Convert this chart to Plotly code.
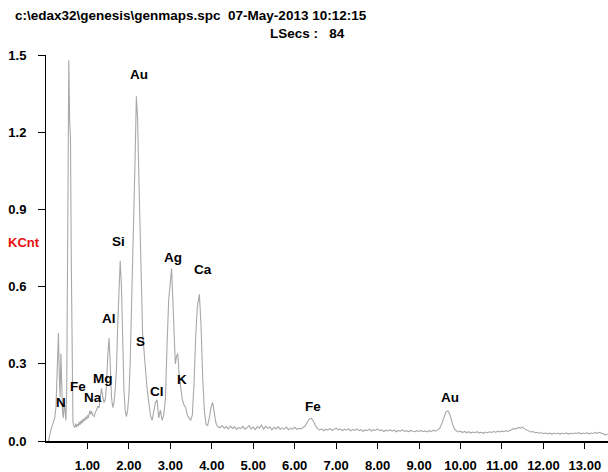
import plotly.graph_objects as go

# ---------------- data ----------------
energy_low = [0.06, 0.09, 0.12, 0.15, 0.18, 0.21, 0.24, 0.26, 0.28, 0.30,
              0.32, 0.34, 0.36, 0.38, 0.40, 0.42, 0.44, 0.46, 0.48, 0.50,
              0.52, 0.54, 0.55, 0.57, 0.59, 0.61, 0.63, 0.65, 0.67, 0.70,
              0.72, 0.74, 0.76, 0.78, 0.80, 0.82, 0.84, 0.86, 0.88, 0.90,
              0.92, 0.94, 0.96, 0.98, 1.00, 1.02, 1.04, 1.06, 1.08, 1.10,
              1.13, 1.16, 1.19, 1.22, 1.25, 1.28, 1.31, 1.34, 1.37, 1.40,
              1.43, 1.46, 1.49, 1.52, 1.55, 1.58, 1.61, 1.64, 1.67, 1.70,
              1.73, 1.76, 1.79, 1.82, 1.85, 1.88, 1.91, 1.94, 1.97, 2.00,
              2.03, 2.06, 2.09, 2.12, 2.15, 2.18, 2.21, 2.24, 2.27, 2.30,
              2.33, 2.36, 2.40, 2.44, 2.48, 2.52, 2.56, 2.60, 2.64, 2.68,
              2.72, 2.76, 2.80, 2.84, 2.88, 2.92, 2.96, 2.99, 3.03, 3.06,
              3.09, 3.12, 3.15, 3.18, 3.21, 3.25, 3.29, 3.33, 3.37, 3.41,
              3.45, 3.49, 3.53, 3.57, 3.61, 3.65, 3.70, 3.74, 3.78, 3.82,
              3.86, 3.90, 3.94, 3.98, 4.02, 4.06, 4.10, 4.14]
kcnt_low = [0.000, 0.030, 0.045, 0.060, 0.075, 0.090, 0.130, 0.220, 0.330, 0.420,
            0.260, 0.170, 0.340, 0.220, 0.110, 0.090, 0.150, 0.120, 0.080, 0.200,
            0.750, 1.300, 1.480, 1.250, 1.180, 0.700, 0.250, 0.075, 0.060, 0.052,
            0.068, 0.055, 0.064, 0.058, 0.074, 0.063, 0.078, 0.068, 0.084, 0.074,
            0.088, 0.079, 0.094, 0.084, 0.100, 0.090, 0.104, 0.118, 0.104, 0.115,
            0.100, 0.095, 0.112, 0.120, 0.135, 0.128, 0.170, 0.205, 0.170, 0.150,
            0.160, 0.220, 0.330, 0.400, 0.300, 0.170, 0.130, 0.150, 0.200, 0.280,
            0.450, 0.620, 0.700, 0.600, 0.380, 0.200, 0.120, 0.095, 0.120, 0.180,
            0.300, 0.480, 0.700, 0.890, 1.100, 1.340, 1.250, 1.030, 0.790, 0.550,
            0.420, 0.360, 0.260, 0.200, 0.150, 0.100, 0.080, 0.120, 0.150, 0.160,
            0.090, 0.120, 0.080, 0.100, 0.160, 0.370, 0.550, 0.600, 0.670, 0.550,
            0.380, 0.300, 0.330, 0.340, 0.260, 0.200, 0.160, 0.140, 0.130, 0.100,
            0.090, 0.080, 0.100, 0.220, 0.400, 0.520, 0.570, 0.450, 0.250, 0.120,
            0.065, 0.060, 0.090, 0.130, 0.150, 0.110, 0.070, 0.055]

energy_high = [4.20, 4.25, 4.30, 4.35, 4.40, 4.45, 4.50, 4.55, 4.60, 4.65,
               4.70, 4.75, 4.80, 4.85, 4.90, 4.95, 5.00, 5.05, 5.10, 5.15,
               5.20, 5.25, 5.30, 5.35, 5.40, 5.45, 5.50, 5.55, 5.60, 5.65,
               5.70, 5.75, 5.80, 5.85, 5.90, 5.95, 6.00, 6.05, 6.10, 6.15,
               6.20, 6.25, 6.30, 6.35, 6.40, 6.45, 6.50, 6.55, 6.60, 6.65,
               6.70, 6.75, 6.80, 6.85, 6.90, 6.95, 7.00, 7.05, 7.10, 7.15,
               7.20, 7.25, 7.30, 7.35, 7.40, 7.45, 7.50, 7.55, 7.60, 7.65,
               7.70, 7.75, 7.80, 7.85, 7.90, 7.95, 8.00, 8.05, 8.10, 8.15,
               8.20, 8.25, 8.30, 8.35, 8.40, 8.45, 8.50, 8.55, 8.60, 8.65,
               8.70, 8.75, 8.80, 8.85, 8.90, 8.95, 9.00, 9.05, 9.10, 9.15,
               9.20, 9.25, 9.30, 9.35, 9.40, 9.45, 9.50, 9.55, 9.60, 9.65,
               9.70, 9.75, 9.80, 9.85, 9.90, 9.95, 10.00, 10.05, 10.10, 10.15,
               10.20, 10.25, 10.30, 10.35, 10.40, 10.45, 10.50, 10.55, 10.60, 10.65,
               10.70, 10.75, 10.80, 10.85, 10.90, 10.95, 11.00, 11.05, 11.10, 11.15,
               11.20, 11.25, 11.30, 11.35, 11.40, 11.45, 11.50, 11.55, 11.60, 11.65,
               11.70, 11.75, 11.80, 11.85, 11.90, 11.95, 12.00, 12.05, 12.10, 12.15,
               12.20, 12.25, 12.30, 12.35, 12.40, 12.45, 12.50, 12.55, 12.60, 12.65,
               12.70, 12.75, 12.80, 12.85, 12.90, 12.95, 13.00, 13.05, 13.10, 13.15,
               13.20, 13.25, 13.30, 13.35, 13.40, 13.45, 13.50, 13.55]
kcnt_high = [0.052, 0.060, 0.050, 0.056, 0.047, 0.058, 0.049, 0.055, 0.045, 0.053,
             0.048, 0.057, 0.046, 0.052, 0.060, 0.047, 0.054, 0.044, 0.056, 0.050,
             0.062, 0.046, 0.058, 0.049, 0.055, 0.043, 0.053, 0.047, 0.056, 0.045,
             0.051, 0.046, 0.054, 0.044, 0.050, 0.046, 0.053, 0.045, 0.049, 0.047,
             0.052, 0.058, 0.072, 0.085, 0.088, 0.078, 0.060, 0.048, 0.043, 0.047,
             0.040, 0.046, 0.042, 0.049, 0.041, 0.045, 0.050, 0.043, 0.047, 0.040,
             0.046, 0.042, 0.048, 0.039, 0.045, 0.041, 0.047, 0.040, 0.044, 0.038,
             0.043, 0.040, 0.046, 0.039, 0.044, 0.041, 0.047, 0.040, 0.043, 0.037,
             0.042, 0.039, 0.044, 0.038, 0.042, 0.036, 0.041, 0.038, 0.043, 0.037,
             0.040, 0.036, 0.041, 0.038, 0.036, 0.040, 0.037, 0.041, 0.036, 0.039,
             0.035, 0.040, 0.037, 0.042, 0.038, 0.043, 0.050, 0.068, 0.095, 0.114,
             0.117, 0.100, 0.070, 0.048, 0.040, 0.035, 0.038, 0.033, 0.037, 0.032,
             0.036, 0.031, 0.035, 0.032, 0.036, 0.031, 0.034, 0.030, 0.035, 0.032,
             0.036, 0.033, 0.037, 0.034, 0.038, 0.035, 0.039, 0.036, 0.040, 0.037,
             0.042, 0.045, 0.049, 0.047, 0.053, 0.050, 0.054, 0.046, 0.042, 0.038,
             0.035, 0.037, 0.032, 0.034, 0.030, 0.032, 0.029, 0.031, 0.028, 0.031,
             0.027, 0.030, 0.028, 0.031, 0.027, 0.030, 0.028, 0.032, 0.027, 0.030,
             0.028, 0.031, 0.029, 0.033, 0.028, 0.031, 0.029, 0.032, 0.028, 0.031,
             0.029, 0.033, 0.030, 0.034, 0.030, 0.026, 0.024, 0.027]

element_labels = ["Au", "Si", "Ag", "Ca", "Al", "S", "Mg", "Fe", "Na", "N",
                  "Cl", "K", "Fe", "Au"]
label_energy = [2.25, 1.76, 3.07, 3.78, 1.52, 2.29, 1.38, 0.77, 1.14, 0.37,
                2.67, 3.29, 6.44, 9.74]
label_kcnt = [1.426, 0.775, 0.714, 0.667, 0.477, 0.386, 0.241, 0.211, 0.168, 0.148,
              0.192, 0.240, 0.136, 0.168]

x_tick_values = [1, 2, 3, 4, 5, 6, 7, 8, 9, 10, 11, 12, 13]
x_tick_labels = ["1.00", "2.00", "3.00", "4.00", "5.00", "6.00", "7.00",
                 "8.00", "9.00", "10.00", "11.00", "12.00", "13.00"]
y_tick_values = [0.0, 0.3, 0.6, 0.9, 1.2, 1.5]
y_tick_labels = ["0.0", "0.3", "0.6", "0.9", "1.2", "1.5"]

header_text = "c:\\edax32\\genesis\\genmaps.spc&nbsp;&nbsp;07-May-2013 10:12:15"
lsecs_text = "LSecs :&nbsp;&nbsp;&nbsp;84"
y_title = "KCnt"

# ---------------- figure ----------------
W, H = 608, 472
ML, MR, MT, MB = 46, 0, 55, 31
PW, PH = W - ML - MR, H - MT - MB
FONT = "Arial, 'Liberation Sans', sans-serif"


def px_x(p):
    return (p - ML) / PW


def px_y(p):
    return (H - MB - p) / PH


energy = energy_low + energy_high
kcnt = kcnt_low + kcnt_high

fig = go.Figure()
fig.add_trace(go.Scatter(x=energy, y=kcnt, mode="lines",
                         line=dict(color="#a8a8a8", width=1.1),
                         hoverinfo="skip"))

annotations = []
for t, ex, ey in zip(element_labels, label_energy, label_kcnt):
    annotations.append(dict(x=ex, y=ey, xref="x", yref="y", text="<b>%s</b>" % t,
                            showarrow=False, font=dict(size=13.5, color="black", family=FONT),
                            xanchor="center", yanchor="middle"))

annotations.append(dict(x=px_x(13), y=px_y(15), xref="paper", yref="paper",
                        text="<b>%s</b>" % header_text, showarrow=False,
                        xanchor="left", yanchor="middle",
                        font=dict(size=13.5, color="black", family=FONT)))
annotations.append(dict(x=px_x(268), y=px_y(33), xref="paper", yref="paper",
                        text="<b>%s</b>" % lsecs_text, showarrow=False,
                        xanchor="left", yanchor="middle",
                        font=dict(size=13.5, color="black", family=FONT)))
annotations.append(dict(x=px_x(42), y=px_y(243), xref="paper", yref="paper",
                        text="<b>%s</b>" % y_title, showarrow=False,
                        xanchor="right", yanchor="middle",
                        font=dict(size=13, color="#e8100c", family=FONT)))

fig.update_layout(
    width=W, height=H,
    margin=dict(l=ML, r=MR, t=MT, b=MB, pad=0),
    paper_bgcolor="white", plot_bgcolor="white",
    showlegend=False,
    font=dict(family=FONT, size=13, color="black"),
    annotations=annotations,
    xaxis=dict(range=[0, PW / 41.45], tickmode="array", tickvals=x_tick_values,
               ticktext=["<b>%s</b>" % s for s in x_tick_labels],
               ticks="outside", ticklen=6, tickwidth=1, tickcolor="black",
               showline=True, linecolor="black", linewidth=2,
               showgrid=False, zeroline=False, ticklabelstandoff=5,
               tickfont=dict(size=13, color="black", family=FONT)),
    yaxis=dict(range=[0, 1.5], tickmode="array", tickvals=y_tick_values,
               ticktext=["<b>%s</b>" % s for s in y_tick_labels],
               ticks="outside", ticklen=7, tickwidth=1, tickcolor="black",
               showline=True, linecolor="black", linewidth=1,
               showgrid=False, zeroline=False, ticklabelstandoff=9,
               tickfont=dict(size=13, color="black", family=FONT)),
)

fig.write_html("out.html", config={"displayModeBar": False},
               post_script="document.body.style.margin='0';"
                           "document.body.style.overflow='hidden';")
